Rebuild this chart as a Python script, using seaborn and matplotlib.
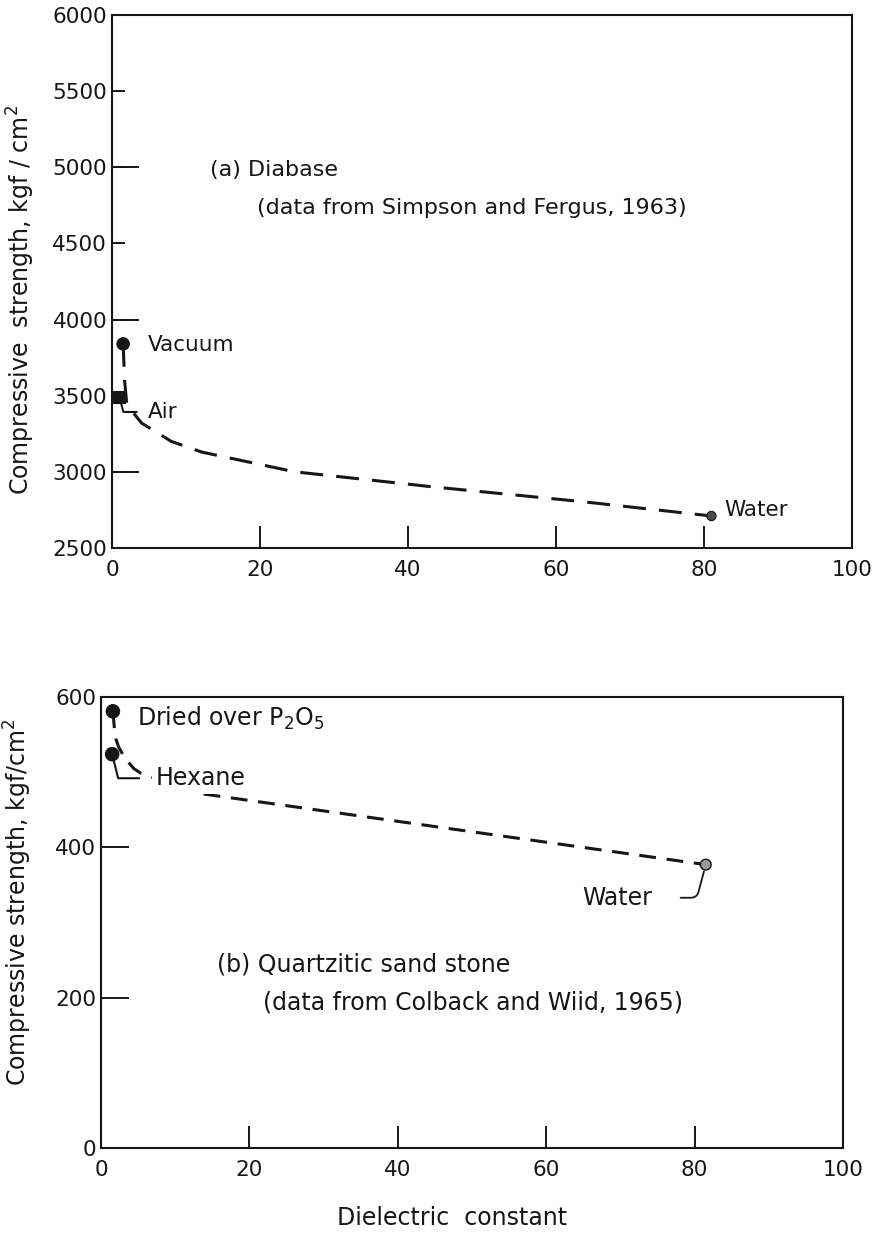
import matplotlib
matplotlib.use("Agg")
import matplotlib.pyplot as plt
from matplotlib.ticker import FixedLocator
import pandas as pd
import seaborn as sns

# ---- (a) Diabase: Simpson and Fergus, 1963 ----
diabase_media = ["Vacuum", "Air", "Water"]
diabase_dielectric = [1.5, 1.0, 81.0]
diabase_strength = [3840, 3490, 2710]
# hand-drawn trend curve through the diabase results
diabase_trend_x = [1.5, 1.7, 2.0, 4.0, 5.0, 8.0, 12.1, 24.7, 43.6, 63.4, 81.0]
diabase_trend_y = [3840, 3600, 3440, 3320, 3290, 3200, 3130, 3000, 2900, 2805, 2710]

# ---- (b) Quartzitic sand stone: Colback and Wiid, 1965 ----
sandstone_media = ["Dried over P$_2$O$_5$", "Hexane", "Water"]
sandstone_dielectric = [1.6, 1.5, 81.5]
sandstone_strength = [581, 524, 377]
sandstone_trend_x = [1.6, 1.9, 2.4, 3.2, 4.4, 5.3, 13.1, 81.5]
sandstone_trend_y = [581, 547, 533, 519, 505, 499, 472, 377]

x_ticks = [0, 20, 40, 60, 80, 100]
diabase_yticks = [2500, 3000, 3500, 4000, 4500, 5000, 5500, 6000]
sandstone_yticks = [0, 200, 400, 600]

sns.set_style("white")
plt.rcParams["font.family"] = ["DejaVu Sans"]
plt.rcParams["mathtext.default"] = "regular"

INK = "#161616"

fig = plt.figure(figsize=(8.8, 12.35), dpi=100)
ax1 = fig.add_axes([0.1273, 0.5563, 0.8409, 0.4316])
ax2 = fig.add_axes([0.1148, 0.0704, 0.8432, 0.3652])

def frame(ax, yticks, ylim, ylabel, ylab_xy, major_len, minor_vals=None):
    ax.set_xlim(0, 100)
    ax.set_ylim(*ylim)
    ax.set_xticks(x_ticks)
    ax.set_yticks(yticks)
    for s in ax.spines.values():
        s.set_visible(True)
        s.set_color(INK)
        s.set_linewidth(1.5)
    ax.tick_params(axis="x", which="major", bottom=True, direction="in",
                   length=16, width=1.4, color=INK, labelsize=15.5, pad=8.5,
                   labelcolor=INK)
    ax.tick_params(axis="y", which="major", left=True, direction="in",
                   length=major_len, width=1.4, color=INK, labelsize=15.5,
                   pad=3.5, labelcolor=INK)
    if minor_vals is not None:
        # longer marks at the thousands, drawn on top of the labelled ticks
        ax.yaxis.remove_overlapping_locs = False
        ax.yaxis.set_minor_locator(FixedLocator(minor_vals))
        ax.tick_params(axis="y", which="minor", left=True, direction="in",
                       length=19.5, width=1.4, color=INK)
    ax.set_ylabel(ylabel, fontsize=17, color=INK)
    ax.yaxis.set_label_coords(*ylab_xy)
    ax.set_xlabel("")
    ax.grid(False)

# ---------- top panel ----------
df_a = pd.DataFrame({"medium": diabase_media, "dielectric": diabase_dielectric,
                     "strength": diabase_strength})
sns.lineplot(x=diabase_trend_x, y=diabase_trend_y, ax=ax1, color=INK, lw=2.2,
             sort=False, estimator=None, zorder=2)
ax1.lines[-1].set_linestyle((0, (7.5, 4.3)))
sns.scatterplot(data=df_a, x="dielectric", y="strength", hue="medium",
                style="medium", size="medium", ax=ax1, legend=False,
                palette={"Vacuum": INK, "Air": INK, "Water": "#4a4a4a"},
                markers={"Vacuum": "o", "Air": "s", "Water": "o"},
                sizes={"Vacuum": 80, "Air": 75, "Water": 45},
                edgecolor=INK, linewidth=0.8, zorder=4)

frame(ax1, diabase_yticks, (2500, 6000),
      "Compressive  strength, kgf / cm$^2$", (-0.101, 0.465), 9.5,
      minor_vals=[3000, 4000, 5000])

ax1.text(0.132, 0.709, "(a) Diabase", transform=ax1.transAxes,
         va="center", fontsize=16, color=INK)
ax1.text(0.196, 0.638, "(data from Simpson and Fergus, 1963)",
         transform=ax1.transAxes, va="center", fontsize=16, color=INK)

ax1.text(4.9, 3833, "Vacuum", va="center", fontsize=15.5, color=INK)
ax1.annotate("Air", xy=(1.0, 3490), xytext=(4.9, 3393), va="center",
             fontsize=15.5, color=INK,
             arrowprops=dict(arrowstyle="-", color=INK, lw=1.5, shrinkA=6,
                             shrinkB=4,
                             connectionstyle="angle,angleA=0,angleB=105,rad=0"))
ax1.text(82.8, 2750, "Water", va="center", fontsize=15.5, color=INK)

# ---------- bottom panel ----------
df_b = pd.DataFrame({"medium": sandstone_media, "dielectric": sandstone_dielectric,
                     "strength": sandstone_strength})
sns.lineplot(x=sandstone_trend_x, y=sandstone_trend_y, ax=ax2, color=INK,
             lw=2.2, sort=False, estimator=None, zorder=2)
ax2.lines[-1].set_linestyle((0, (5.5, 3.5)))
sns.scatterplot(data=df_b, x="dielectric", y="strength", hue="medium",
                size="medium", ax=ax2, legend=False,
                palette={sandstone_media[0]: INK, "Hexane": INK, "Water": "#9a9a9a"},
                sizes={sandstone_media[0]: 90, "Hexane": 90, "Water": 60},
                edgecolor=INK, linewidth=1.0, zorder=4)

frame(ax2, sandstone_yticks, (0, 600),
      "Compressive strength, kgf/cm$^2$", (-0.090, 0.545), 20)
ax2.set_xlabel("Dielectric  constant", fontsize=17, color=INK)
ax2.xaxis.set_label_coords(0.473, -0.128)

ax2.text(0.156, 0.406, "(b) Quartzitic sand stone", transform=ax2.transAxes,
         va="center", fontsize=17, color=INK)
ax2.text(0.218, 0.322, "(data from Colback and Wiid, 1965)",
         transform=ax2.transAxes, va="center", fontsize=17, color=INK)

ax2.text(4.85, 572, sandstone_media[0], va="center", fontsize=17, color=INK)
ax2.annotate("Hexane", xy=(1.5, 524), xytext=(7.3, 492), va="center",
             fontsize=17, color=INK,
             bbox=dict(boxstyle="square,pad=0.15", fc="white", ec="none"),
             arrowprops=dict(arrowstyle="-", color=INK, lw=1.5, shrinkA=9,
                             shrinkB=5,
                             connectionstyle="angle,angleA=0,angleB=104,rad=0"),
             zorder=3)
ax2.annotate("Water", xy=(81.5, 377), xytext=(74.3, 333), ha="right",
             va="center", fontsize=17, color=INK,
             arrowprops=dict(arrowstyle="-", color=INK, lw=1.3, shrinkA=18,
                             shrinkB=5,
                             connectionstyle="angle,angleA=0,angleB=75,rad=6"))

fig.savefig("out.png", dpi=100, facecolor="white")
